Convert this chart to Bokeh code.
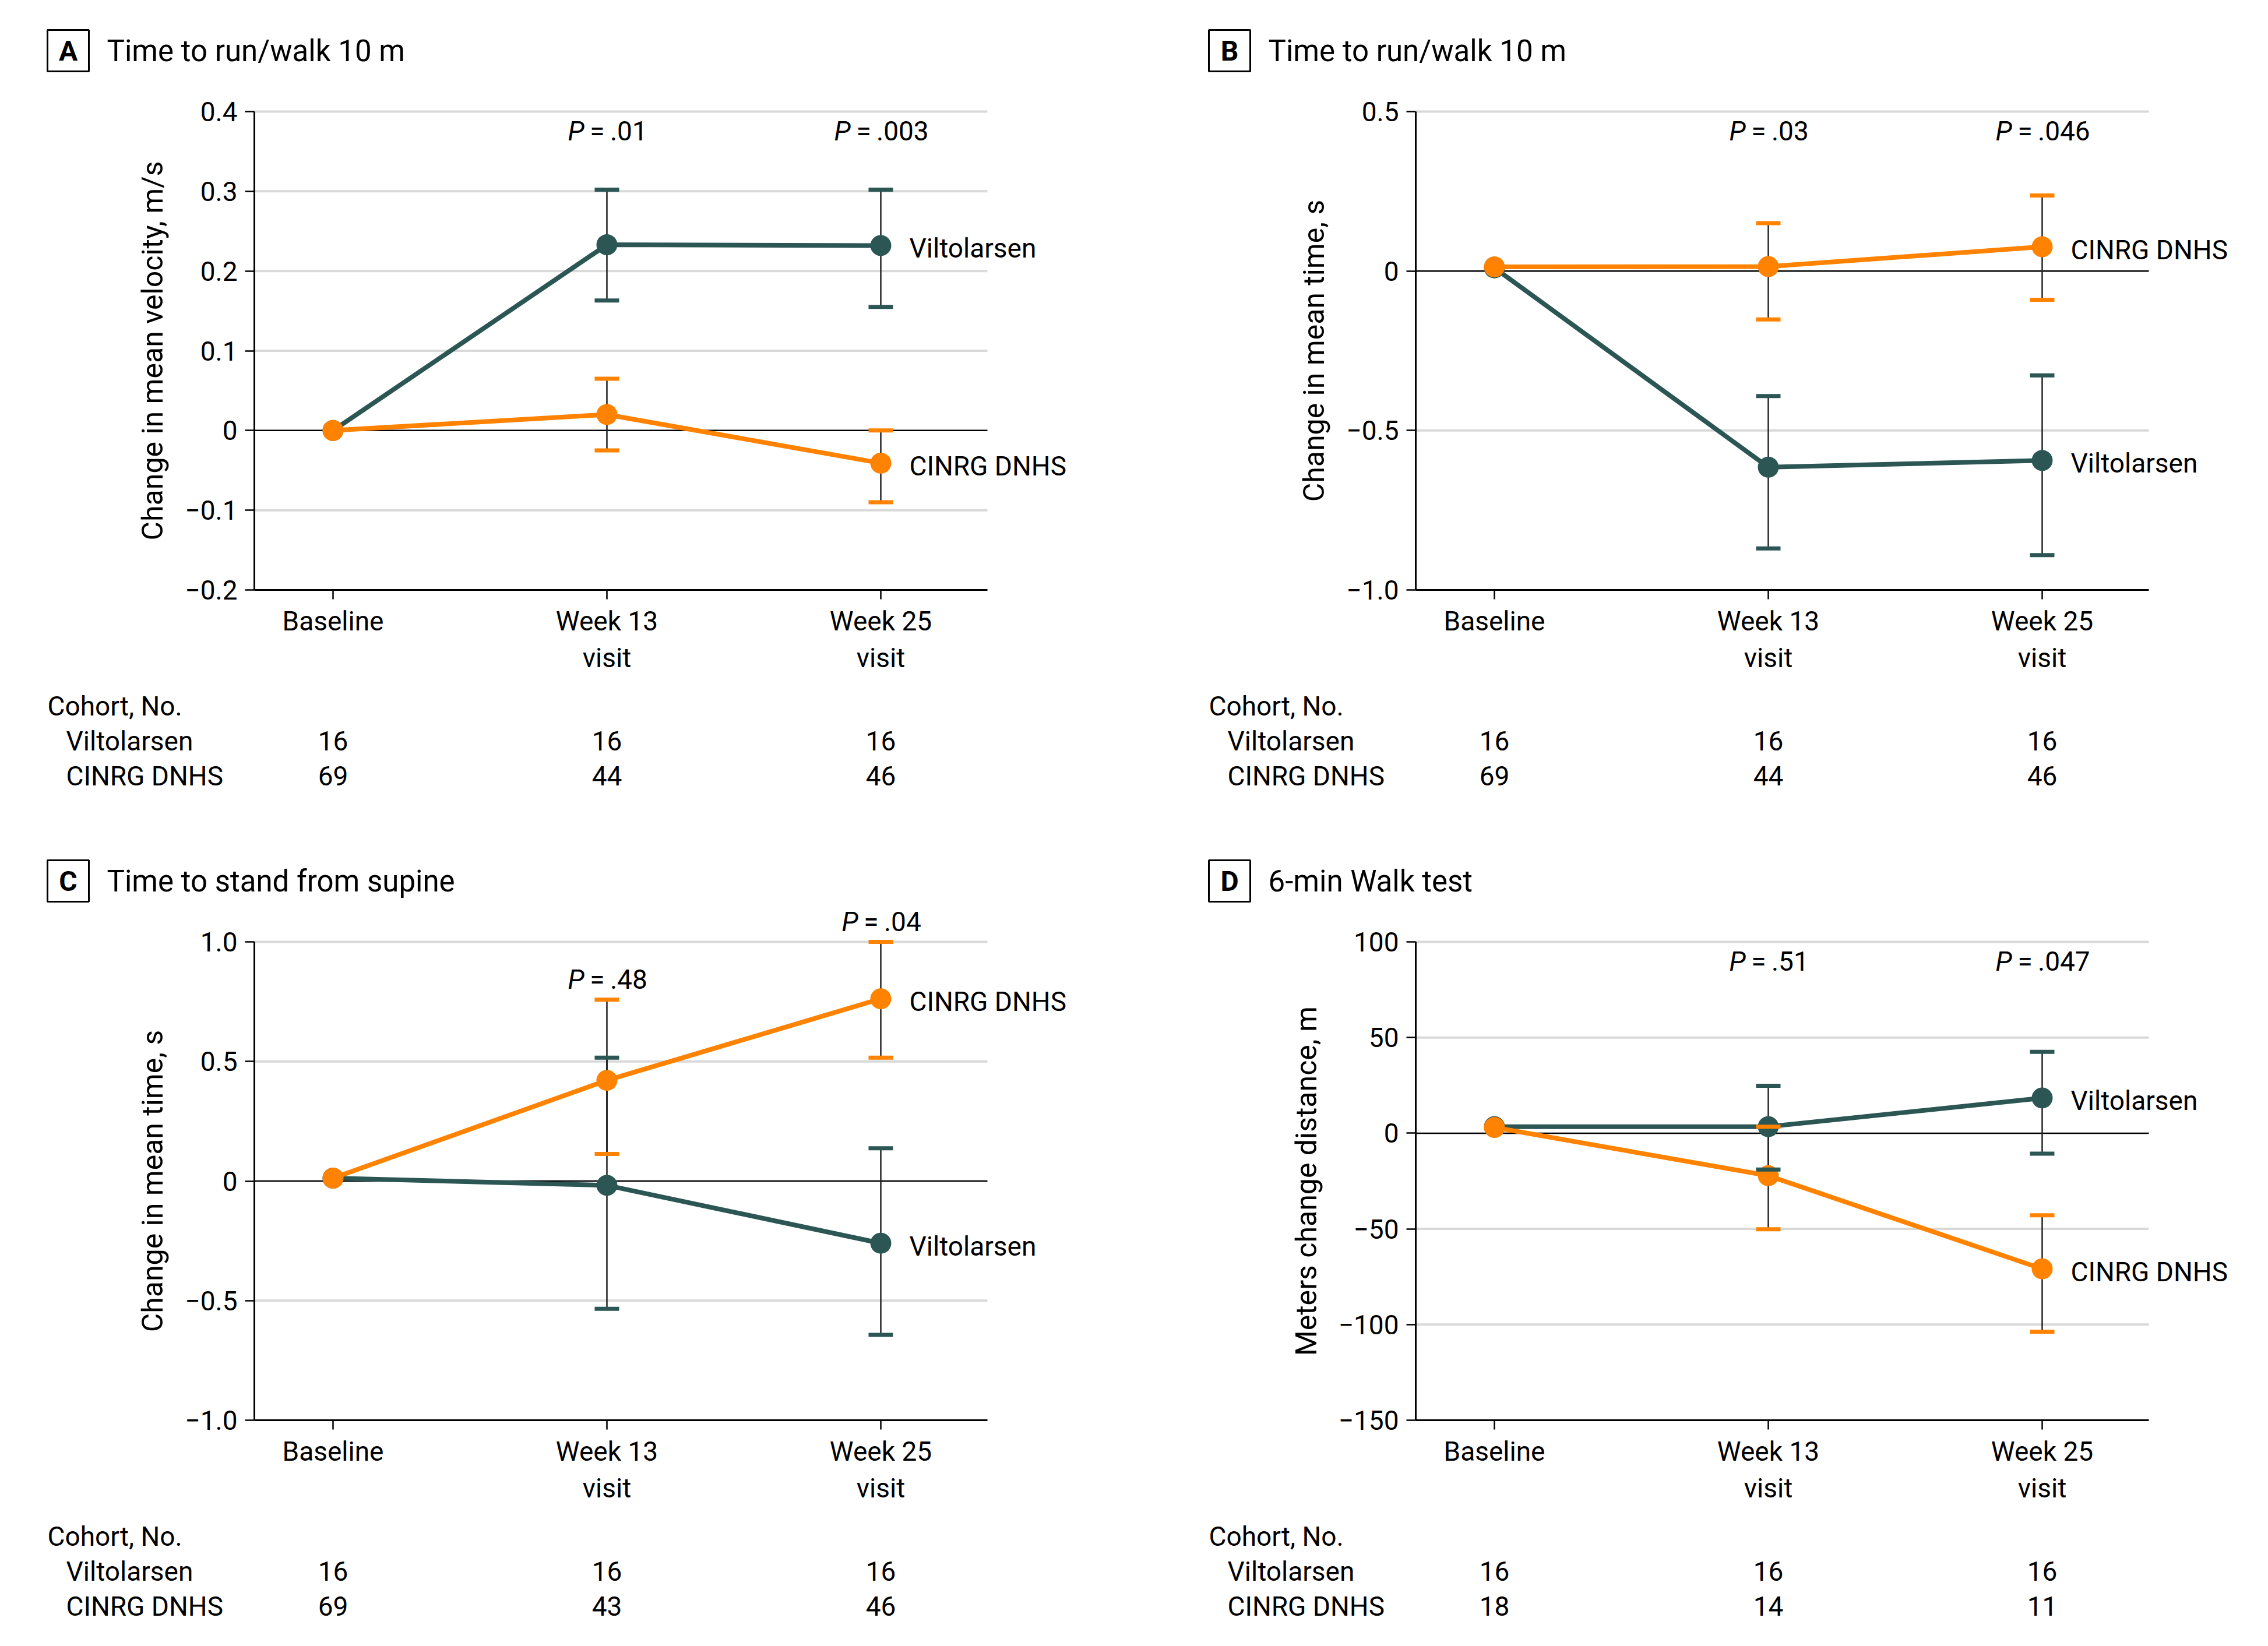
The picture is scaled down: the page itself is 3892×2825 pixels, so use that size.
import math
from bokeh.plotting import figure
from bokeh.models import Range1d, FixedTicker, Label
from bokeh.layouts import column, row
from bokeh.core.properties import value
from bokeh.embed import file_html
from bokeh.resources import INLINE

# ---------------- data ----------------
x_index = [0, 1, 2]
x_labels = ["Baseline", "Week 13\nvisit", "Week 25\nvisit"]
series_names = ["Viltolarsen", "CINRG DNHS"]
series_colors = ["#2B5654", "#FF8200"]

# Panel A: Time to run/walk 10 m (velocity)
a_vilt_mean = [0.0, 0.233, 0.232]
a_vilt_lo = [None, 0.163, 0.155]
a_vilt_hi = [None, 0.302, 0.302]
a_cinrg_mean = [0.0, 0.020, -0.041]
a_cinrg_lo = [None, -0.025, -0.090]
a_cinrg_hi = [None, 0.065, 0.000]
a_pvals = [None, ".01", ".003"]
a_n_vilt = [16, 16, 16]
a_n_cinrg = [69, 44, 46]
a_yticks = [-0.2, -0.1, 0.0, 0.1, 0.2, 0.3, 0.4]
a_yticklabels = ["\u22120.2", "\u22120.1", "0", "0.1", "0.2", "0.3", "0.4"]

# Panel B: Time to run/walk 10 m (time)
b_vilt_mean = [0.01, -0.615, -0.594]
b_vilt_lo = [None, -0.870, -0.891]
b_vilt_hi = [None, -0.392, -0.327]
b_cinrg_mean = [0.013, 0.014, 0.076]
b_cinrg_lo = [None, -0.152, -0.090]
b_cinrg_hi = [None, 0.150, 0.237]
b_pvals = [None, ".03", ".046"]
b_n_vilt = [16, 16, 16]
b_n_cinrg = [69, 44, 46]
b_yticks = [-1.0, -0.5, 0.0, 0.5]
b_yticklabels = ["\u22121.0", "\u22120.5", "0", "0.5"]

# Panel C: Time to stand from supine
c_vilt_mean = [0.012, -0.018, -0.260]
c_vilt_lo = [None, -0.534, -0.643]
c_vilt_hi = [None, 0.516, 0.137]
c_cinrg_mean = [0.012, 0.421, 0.762]
c_cinrg_lo = [None, 0.113, 0.516]
c_cinrg_hi = [None, 0.758, 1.000]
c_pvals = [None, ".48", ".04"]
c_n_vilt = [16, 16, 16]
c_n_cinrg = [69, 43, 46]
c_yticks = [-1.0, -0.5, 0.0, 0.5, 1.0]
c_yticklabels = ["\u22121.0", "\u22120.5", "0", "0.5", "1.0"]

# Panel D: 6-min Walk test
d_vilt_mean = [3.4, 3.4, 18.4]
d_vilt_lo = [None, -19.0, -10.7]
d_vilt_hi = [None, 24.8, 42.5]
d_cinrg_mean = [3.0, -22.2, -70.9]
d_cinrg_lo = [None, -50.2, -103.8]
d_cinrg_hi = [None, 3.4, -42.9]
d_pvals = [None, ".51", ".047"]
d_n_vilt = [16, 16, 16]
d_n_cinrg = [18, 14, 11]
d_yticks = [-150, -100, -50, 0, 50, 100]
d_yticklabels = ["\u2212150", "\u2212100", "\u221250", "0", "50", "100"]

panels = [
    dict(letter="A", title="Time to run/walk 10 m", ylabel="Change in mean velocity, m/s",
         series=[(a_vilt_mean, a_vilt_lo, a_vilt_hi), (a_cinrg_mean, a_cinrg_lo, a_cinrg_hi)],
         pvals=a_pvals, n=[a_n_vilt, a_n_cinrg], yticks=a_yticks, ylabels=a_yticklabels, pmode="top"),
    dict(letter="B", title="Time to run/walk 10 m", ylabel="Change in mean time, s",
         series=[(b_vilt_mean, b_vilt_lo, b_vilt_hi), (b_cinrg_mean, b_cinrg_lo, b_cinrg_hi)],
         pvals=b_pvals, n=[b_n_vilt, b_n_cinrg], yticks=b_yticks, ylabels=b_yticklabels, pmode="top"),
    dict(letter="C", title="Time to stand from supine", ylabel="Change in mean time, s",
         series=[(c_vilt_mean, c_vilt_lo, c_vilt_hi), (c_cinrg_mean, c_cinrg_lo, c_cinrg_hi)],
         pvals=c_pvals, n=[c_n_vilt, c_n_cinrg], yticks=c_yticks, ylabels=c_yticklabels, pmode="bar"),
    dict(letter="D", title="6-min Walk test", ylabel="Meters change distance, m",
         series=[(d_vilt_mean, d_vilt_lo, d_vilt_hi), (d_cinrg_mean, d_cinrg_lo, d_cinrg_hi)],
         pvals=d_pvals, n=[d_n_vilt, d_n_cinrg], yticks=d_yticks, ylabels=d_yticklabels, pmode="top"),
]

# ---------------- layout (pixels, panel-local) ----------------
FONT = "Roboto"
COL_W = [1994, 1890]
COL_SHIFT = [0, -1]
HEAD_H = 125                  # header strip: letter box + title
MAIN_BOTTOM = 1175            # bottom of the plot row
TABLE_H = [250, 215]          # cohort table strip height per row
PLOT_TOP, PLOT_BOTTOM = 191, 1012      # visible plot area
AXIS_X = 436                  # y-axis position
TICK_BORDER = 140             # left border of the plot figure (tick labels)
PX_PER_X = 470.0
X_START = -0.2872
X_VIS_END = X_START + 1258 / PX_PER_X
FS = "46px"

CHAR_W = {"P": 0.62, ".": 0.263, "=": 0.549, " ": 0.248, "\u2009": 0.18, "\u2212": 0.57}


def text_w(s, size=46):
    return sum(CHAR_W.get(ch, 0.562) for ch in s) * size


def blank(W, H, xr, yr):
    p = figure(width=W, height=H, x_range=xr, y_range=yr, output_backend="svg",
               toolbar_location=None, x_axis_type=None, y_axis_type=None,
               min_border_left=0, min_border_right=0, min_border_top=0, min_border_bottom=0,
               frame_align=False)
    p.outline_line_color = None
    p.background_fill_color = "white"
    p.border_fill_color = "white"
    return p


def strip_range(col):
    W, sx = COL_W[col], COL_SHIFT[col]
    left = AXIS_X + sx
    x0 = X_START - left / PX_PER_X
    return x0, X_START + (W - left) / PX_PER_X


def header(spec, col):
    W, sx = COL_W[col], COL_SHIFT[col]
    x0, x1 = strip_range(col)
    p = blank(W, HEAD_H, Range1d(x0, x1), Range1d(HEAD_H, 0))

    def px(v):
        return x0 + (v + sx) / PX_PER_X

    p.quad(left=[px(81)], right=[px(152)], top=[51], bottom=[122], fill_color=None,
           line_color="black", line_width=3)
    p.text(x=[px(116.5)], y=[87], text=[spec["letter"]], text_font=value(FONT),
           text_font_size="48px", text_font_style="bold", text_align="center",
           text_baseline="middle", text_color="black")
    p.text(x=[px(183)], y=[87], text=[spec["title"]], text_font=value(FONT),
           text_font_size="51px", text_align="left", text_baseline="middle", text_color="black")
    return p


def ylabel_strip(spec, col):
    sx = COL_SHIFT[col]
    W = AXIS_X + sx - TICK_BORDER
    H = MAIN_BOTTOM - HEAD_H
    p = blank(W, H, Range1d(0, W), Range1d(H, 0))
    widest = max(text_w(t) for t in spec["ylabels"])
    cx = AXIS_X + sx - 16 - 13 - widest - 26 - 29
    cy = (PLOT_TOP + PLOT_BOTTOM) / 2 - HEAD_H
    p.text(x=[cx], y=[cy], text=[spec["ylabel"]], angle=math.pi / 2, text_font=value(FONT),
           text_font_size="50px", text_align="center", text_baseline="middle",
           text_color="black")
    return p


def main_plot(spec, col):
    W, sx = COL_W[col], COL_SHIFT[col]
    left_strip = AXIS_X + sx - TICK_BORDER
    Wm = W - left_strip
    ymin, ymax = spec["yticks"][0], spec["yticks"][-1]
    per_px = (ymax - ymin) / (PLOT_BOTTOM - PLOT_TOP)
    y_end = ymax + (PLOT_TOP - HEAD_H) * per_px
    p = figure(width=Wm, height=MAIN_BOTTOM - HEAD_H,
               x_range=Range1d(X_START, X_START + (Wm - TICK_BORDER) / PX_PER_X),
               y_range=Range1d(ymin, y_end), output_backend="svg", toolbar_location=None,
               min_border_left=TICK_BORDER, min_border_right=0, min_border_top=0,
               min_border_bottom=MAIN_BOTTOM - PLOT_BOTTOM, frame_align=False)
    p.outline_line_color = None
    p.background_fill_color = "white"
    p.border_fill_color = "white"
    p.grid.visible = False

    p.xaxis.ticker = FixedTicker(ticks=x_index)
    p.xaxis.major_label_overrides = {i: lab for i, lab in zip(x_index, x_labels)}
    p.xaxis.bounds = (X_START, X_VIS_END)
    p.yaxis.ticker = FixedTicker(ticks=spec["yticks"])
    p.yaxis.major_label_overrides = {t: lab for t, lab in zip(spec["yticks"], spec["ylabels"])}
    p.yaxis.bounds = (ymin, ymax)
    for ax in (p.xaxis[0], p.yaxis[0]):
        ax.axis_line_width = 3
        ax.axis_line_color = "black"
        ax.major_tick_line_width = 2.5
        ax.major_tick_line_color = "black"
        ax.major_tick_out = 16
        ax.major_tick_in = 0
        ax.minor_tick_out = 0
        ax.minor_tick_in = 0
        ax.major_label_text_font = FONT
        ax.major_label_text_font_size = FS
        ax.major_label_text_color = "black"
    p.xaxis.major_label_standoff = 10
    p.xaxis.major_label_text_line_height = 1.175
    p.yaxis.major_label_standoff = 13

    # horizontal grid lines, limited to the visible plot area
    gy = [t for t in spec["yticks"][1:] if t != 0]
    p.segment(x0=[X_START] * len(gy), y0=gy, x1=[X_VIS_END] * len(gy), y1=gy,
              line_color="#D9D9D9", line_width=4)
    p.segment(x0=[X_START], y0=[0], x1=[X_VIS_END], y1=[0], line_color="black", line_width=2.5)

    # error bar stems
    for (mean, lo, hi), color in zip(spec["series"], series_colors):
        xs = [x for x, l in zip(x_index, lo) if l is not None]
        los = [l for l in lo if l is not None]
        his = [h for h in hi if h is not None]
        p.segment(x0=xs, y0=los, x1=xs, y1=his, line_color="#222222", line_width=2.5)
    # lines + markers
    for (mean, lo, hi), color in zip(spec["series"], series_colors):
        p.line(x_index, mean, line_color=color, line_width=8)
        p.scatter(x_index, mean, size=36, fill_color=color, line_color=None)
    # caps
    for (mean, lo, hi), color in zip(spec["series"], series_colors):
        xs = [x for x, l in zip(x_index, lo) if l is not None]
        ends = [l for l in lo if l is not None] + [h for h in hi if h is not None]
        p.scatter(xs + xs, ends, marker="dash", size=42, line_color=color, line_width=7,
                  line_cap="butt")

    # series labels at right
    for (mean, lo, hi), name in zip(spec["series"], series_names):
        p.add_layout(Label(x=x_index[-1], y=mean[-1], x_offset=49, y_offset=-5, text=name,
                           text_font=FONT, text_font_size=FS, text_baseline="middle",
                           text_align="left", text_color="black"))

    # P values
    for i, pv in zip(x_index, spec["pvals"]):
        if pv is None:
            continue
        rest = "\u2009=\u2009" + pv
        total = text_w("P") + text_w(rest)
        if spec["pmode"] == "top":
            ykw = dict(y=ymin + (PLOT_BOTTOM - 224) * per_px)
        else:
            ykw = dict(y=max(h[i] for (_, _, h) in spec["series"]), y_offset=35)
        p.add_layout(Label(x=i, x_offset=-total / 2, text="P", text_font=FONT,
                           text_font_size=FS, text_font_style="italic", text_align="left",
                           text_baseline="middle", text_color="black", **ykw))
        p.add_layout(Label(x=i, x_offset=-total / 2 + text_w("P"), text=rest,
                           text_font=FONT, text_font_size=FS, text_align="left",
                           text_baseline="middle", text_color="black", **ykw))
    return p


def table(spec, col, rw):
    W, sx = COL_W[col], COL_SHIFT[col]
    H = TABLE_H[rw]
    x0, x1 = strip_range(col)
    p = blank(W, H, Range1d(x0, x1), Range1d(H, 0))
    top = MAIN_BOTTOM

    def px(v):
        return x0 + (v + sx) / PX_PER_X

    p.text(x=[px(81)], y=[1211 - top], text=["Cohort, No."], text_font=value(FONT),
           text_font_size=FS, text_baseline="middle", text_align="left", text_color="black")
    for r, (name, counts) in enumerate(zip(series_names, spec["n"])):
        yc = 1271 + 60 * r - top
        p.text(x=[px(113)], y=[yc], text=[name], text_font=value(FONT), text_font_size=FS,
               text_baseline="middle", text_align="left", text_color="black")
        p.text(x=x_index, y=[yc] * len(x_index), text=[str(c) for c in counts],
               text_font=value(FONT), text_font_size=FS, text_baseline="middle",
               text_align="center", text_color="black")
    return p


page_rows = []
for rw in range(2):
    cols = []
    for c in range(2):
        spec = panels[2 * rw + c]
        cols.append(column(header(spec, c),
                           row(ylabel_strip(spec, c), main_plot(spec, c)),
                           table(spec, c, rw)))
    page_rows.append(row(*cols))
layout = column(*page_rows)

open("out.html", "w").write(file_html(layout, INLINE))
